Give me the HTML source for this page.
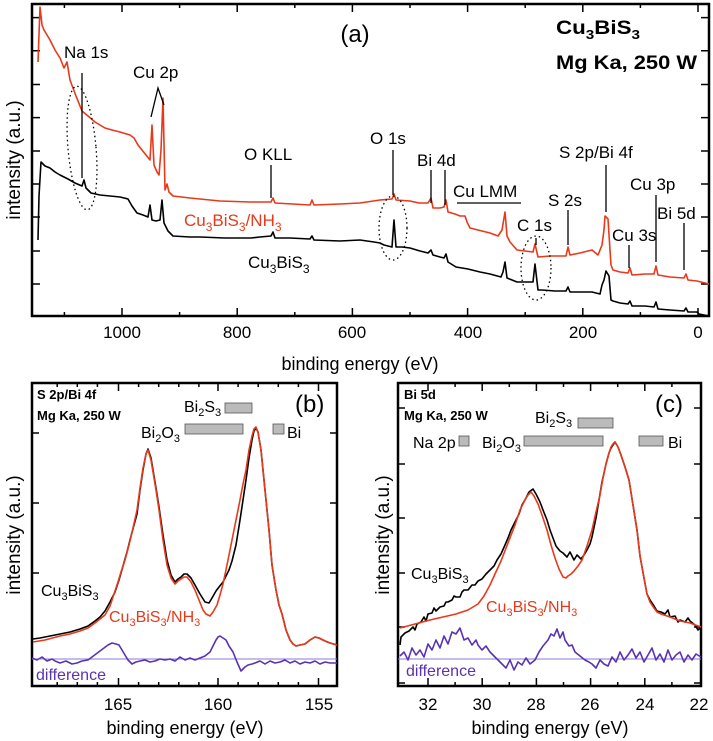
<!DOCTYPE html>
<html><head><meta charset="utf-8"><style>
html,body{margin:0;padding:0;background:#fff;}
svg{display:block;font-family:"Liberation Sans",sans-serif;}
</style></head><body>
<svg width="713" height="741" viewBox="0 0 713 741" xmlns="http://www.w3.org/2000/svg">
<g fill="none" stroke="#000" stroke-width="2.5">
<rect x="32" y="4" width="677" height="312"/>
<rect x="32" y="383" width="305" height="303"/>
<rect x="398" y="383" width="303" height="303"/>
</g>
<g stroke="#000" stroke-width="1.5" fill="none">
<path d="M32,17.6h8M32,50.7h8M32,84.5h8M32,117.6h8M32,151h8M32,184h8M32,217h8M32,251h8M32,284h8
M701,17.6h8M701,50.7h8M701,84.5h8M701,117.6h8M701,151h8M701,184h8M701,217h8M701,251h8M701,284h8
M64.4,316v-4M122,316v-8M179.6,316v-4M237.2,316v-8M294.8,316v-4M352.4,316v-8M410,316v-4M467.6,316v-8M525.2,316v-4M582.8,316v-8M640.4,316v-4M698,316v-8
M64.4,4v4M122,4v8M179.6,4v4M237.2,4v8M294.8,4v4M352.4,4v8M410,4v4M467.6,4v8M525.2,4v4M582.8,4v8M640.4,4v4M698,4v8
M32,433h7M32,503h7M32,573h7M330,433h7M330,503h7M330,573h7
M57.2,686v-4M77.3,686v-4M97.4,686v-4M118.5,686v-8M138.6,686v-4M158.7,686v-4M178.8,686v-4M198.9,686v-4M218,686v-8M238.1,686v-4M258.2,686v-4M278.3,686v-4M298.4,686v-4M318.5,686v-8
M57.2,383v4M77.3,383v4M97.4,383v4M118.5,383v8M138.6,383v4M158.7,383v4M178.8,383v4M198.9,383v4M218,383v8M238.1,383v4M258.2,383v4M278.3,383v4M298.4,383v4M318.5,383v8
M398,408h7M398,464h7M398,518h7M398,573h7M398,627h7M398,683h7M694,408h7M694,464h7M694,518h7M694,573h7M694,627h7M694,683h7
M428,686v-8M455.1,686v-4M482.2,686v-8M509.3,686v-4M536.4,686v-8M563.5,686v-4M590.6,686v-8M617.7,686v-4M644.8,686v-8M671.9,686v-4
M428,383v8M455.1,383v4M482.2,383v8M509.3,383v4M536.4,383v8M563.5,383v4M590.6,383v8M617.7,383v4M644.8,383v8M671.9,383v4"/>
</g>
<line x1="32" y1="659" x2="337" y2="659" stroke="#8a78d8" stroke-width="1"/>
<line x1="398" y1="659" x2="701" y2="659" stroke="#8a78d8" stroke-width="1"/>
<g fill="none" stroke-width="1.6" stroke-linejoin="round">
<polyline stroke="#e8391a" points="38,62 40,7 42,25 44,30 50,40 55,50 60,58 64,68 67,62 70,80 76,96 82,111 88,116 95,122 100,125 105,128 112,130 120,132 130,135 134,138 138,145 142,150 146,155 150,160 152,125 154,165 157,172 159,175 161,150 163,98 165,190 167,184 169,192 173,196 190,198 220,201 250,202 271,202 273,198 275,203 310,205 312,200 314,205 340,204 360,203 380,200 392,199 394,194 396,200 410,201 419,203 428,203 431,198 433,208 440,208 444,207 446,200 448,212 455,214 460,216 465,216 467,222 470,228 478,230 490,233 498,236 502,230 504,218 505,212 507,236 510,242 517,250 525,251 533,252 535,244 538,257 550,256 566,256 568,247 570,255 580,253 592,250 598,255 602,245 604,230 605,216 608,219 610,250 611,265 613,270 620,272 628,273 630,268 632,275 645,274 654,274 656,266 658,275 670,277 684,278 686,274 688,280 697,281 709,284"/>
<polyline stroke="#000" points="38,240 39,196 41,162 45,166 50,168 55,172 60,175 64,177 68,179 75,183 82,186 84,180 86,188 91,193 100,195 110,196 120,197 128,199 132,206 137,213 143,215 148,217 150,205 152,220 156,221 160,220 162,200 164,223 168,231 173,236 190,237 200,237 225,238 251,238 260,237 271,236 273,232 275,238 290,238 310,239 312,236 314,240 340,241 360,240 374,242 380,243 384,245 392,247 394,220 396,247 402,247 410,248 420,251 428,253 431,250 433,255 440,257 444,258 446,254 448,262 456,267 468,269 480,272 490,274 501,277 503,272 505,262 507,278 517,282 525,282 533,282 535,264 538,290 542,290 555,291 566,291 568,287 570,292 580,292 592,292 600,294 602,285 604,280 606,271 609,276 611,300 613,301 620,303 628,304 630,301 632,306 645,306 654,307 656,302 658,309 670,310 684,311 686,308 688,312 697,312 699,314 709,316"/>
<polyline stroke="#000" points="33,639 40,638 50,636 60,634 70,632 80,629 88,626 95,621 100,617 105,611 110,602 115,592 119,580 123,566 127,552 130,540 134,525 137,514 140,490 143,470 146,454 148,449 151,458 153,470 156,488 159,507 163,535 167,560 171,575 175,582 178,579 181,577 184,574 187,574 191,578 195,585 200,594 205,602 209,603 212,598 216,591 219,587 223,582 226,576 229,570 232,561 236,545 240,520 243,500 246,480 249,458 252,440 254,431 256,428 258,432 261,450 265,490 269,530 272,565 276,590 279,605 282,614 286,630 290,640 293,644 296,646 300,645 305,644 310,640 315,637 319,638 325,641 330,643 337,645"/>
<polyline stroke="#e8391a" points="33,642 45,640 60,636 70,634 80,631 88,628 95,623 100,619 105,615 110,606 114,594 118,582 121,572 125,560 129,545 133,528 137,510 140,488 143,468 146,454 148,450 151,460 153,472 156,490 159,510 163,540 167,565 171,578 175,584 178,581 181,579 184,577 187,577 191,582 195,590 199,600 203,610 206,614 210,616 213,612 217,605 220,595 223,584 227,565 232,540 236,520 240,500 243,484 246,470 249,450 252,436 254,429 256,427 258,432 261,450 265,490 269,530 272,565 276,590 279,605 282,614 286,630 290,640 293,644 296,646 300,645 305,644 310,640 315,637 319,638 325,641 330,643 337,645"/>
<polyline stroke="#5a32b4" points="32,658 37,660 42,657 47,661 52,659 55,661 60,663 66,661 72,664 77,663 82,661 88,660 92,657 96,654 100,651 104,648 108,645 112,643 116,644 119,645 122,650 125,655 128,660 132,664 136,662 140,661 145,660 150,662 155,661 160,659 165,660 170,659 175,661 180,657 185,660 190,658 195,660 200,658 205,656 210,652 213,646 216,640 218,637 220,636 223,638 226,640 229,646 233,652 237,662 241,671 245,667 248,665 252,664 255,663 260,661 265,664 270,661 275,663 280,662 285,660 290,663 295,661 300,664 305,662 310,663 315,661 320,664 325,662 330,663 337,663"/>
<polyline stroke="#000" points="400,645 401,637 405,633 409,631 413,627 415,630 417,624 421,622 424,617 426,621 428,614 432,613 434,608 436,611 440,607 444,606 446,602 448,602 452,600 454,596 456,597 460,597 462,592 464,590 468,590 472,585 475,585 478,581 482,579 486,574 490,570 494,566 497,560 501,554 505,545 508,538 511,530 515,522 519,514 522,505 526,498 529,492 533,489 536,494 540,502 543,510 547,520 550,530 553,538 556,546 560,551 563,553 567,557 570,552 574,560 577,555 581,559 584,555 587,550 590,544 592,537 596,518 599,500 602,482 606,464 609,453 611,448 613,445 615,442 618,447 621,455 625,467 629,480 633,505 637,530 640,556 644,578 647,594 650,600 654,606 657,611 661,612 665,614 668,610 670,617 675,616 678,622 680,620 685,622 688,618 690,621 695,625 698,630 701,627"/>
<polyline stroke="#e8391a" points="400,628 415,624 430,620 443,617 456,614 462,612 468,610 473,607 478,604 484,596 490,585 495,574 501,561 508,543 515,525 520,510 525,500 528,495 531,492 534,496 538,504 542,515 547,530 551,545 555,558 559,569 563,577 566,578 568,576 571,574 574,571 578,566 582,560 587,546 592,530 596,512 600,495 603,478 606,464 609,453 611,447 613,444 615,442 618,447 621,455 625,467 629,480 633,505 637,530 640,556 644,578 647,594 650,602 654,608 657,612 661,614 670,617 680,621 690,623 701,627"/>
<polyline stroke="#5a32b4" points="400,656 404,652 408,660 412,648 416,655 420,650 424,657 428,644 432,650 436,640 440,648 444,636 448,644 452,632 456,634 460,628 464,640 468,638 472,645 476,640 478,645 482,650 486,646 490,652 494,656 498,660 502,664 506,668 510,660 514,670 518,662 522,665 526,658 530,664 535,660 539,652 543,646 548,640 551,634 554,636 557,629 560,638 563,632 565,640 569,646 572,645 575,652 580,656 585,660 589,662 592,664 596,668 600,660 604,664 608,666 612,657 616,662 620,652 624,660 628,655 632,649 636,658 640,652 644,662 648,655 652,648 656,660 660,654 664,662 668,650 672,660 676,655 680,652 684,662 688,655 692,660 696,654 701,657"/>
</g>
<!-- panel a labels -->
<g font-size="17" fill="#000">
<text x="355" y="42" font-size="24" text-anchor="middle">(a)</text>
<text x="556" y="34" font-weight="bold" font-size="19" textLength="84" lengthAdjust="spacingAndGlyphs">Cu<tspan font-size="13" dy="5">3</tspan><tspan dy="-5">BiS</tspan><tspan font-size="13" dy="5">3</tspan></text>
<text x="556" y="69" font-weight="bold" font-size="19" textLength="141" lengthAdjust="spacingAndGlyphs">Mg Ka, 250 W</text>
<text x="64" y="58">Na 1s</text>
<text x="133" y="78">Cu 2p</text>
<text x="244" y="160">O KLL</text>
<text x="370" y="144">O 1s</text>
<text x="417" y="166">Bi 4d</text>
<text x="453" y="197">Cu LMM</text>
<text x="548" y="206">S 2s</text>
<text x="559" y="158">S 2p/Bi 4f</text>
<text x="630" y="190">Cu 3p</text>
<text x="657" y="219">Bi 5d</text>
<text x="612" y="241">Cu 3s</text>
<text x="517" y="231">C 1s</text>
<text x="184" y="226" fill="#e8391a">Cu<tspan font-size="12" dy="5">3</tspan><tspan dy="-5">BiS</tspan><tspan font-size="12" dy="5">3</tspan><tspan dy="-5">/NH</tspan><tspan font-size="12" dy="5">3</tspan></text>
<text x="248" y="268">Cu<tspan font-size="12" dy="5">3</tspan><tspan dy="-5">BiS</tspan><tspan font-size="12" dy="5">3</tspan></text>
<text x="360" y="370" text-anchor="middle" font-size="18">binding energy (eV)</text>
<text transform="translate(20,160) rotate(-90)" text-anchor="middle" font-size="19">intensity (a.u.)</text>
<g font-size="17" text-anchor="middle">
<text x="122" y="338">1000</text><text x="237" y="338">800</text><text x="352" y="338">600</text><text x="468" y="338">400</text><text x="583" y="338">200</text><text x="698" y="338">0</text>
</g>
</g>
<g stroke="#000" stroke-width="1.3" fill="none">
<line x1="82" y1="73" x2="82" y2="178"/>
<polyline points="151,117 158,88 164,105"/>
<line x1="271" y1="165" x2="271" y2="198"/>
<line x1="393" y1="150" x2="393" y2="195"/>
<line x1="431" y1="170" x2="431" y2="203"/>
<line x1="445" y1="170" x2="445" y2="205"/>
<line x1="457" y1="203" x2="521" y2="203"/>
<line x1="568" y1="210" x2="568" y2="245"/>
<line x1="606" y1="165" x2="606" y2="212"/>
<line x1="656" y1="195" x2="656" y2="262"/>
<line x1="684" y1="223" x2="684" y2="270"/>
<line x1="629" y1="245" x2="629" y2="268"/>
<line x1="536" y1="238" x2="536" y2="245"/>
<g stroke-dasharray="1.5,3">
<ellipse cx="82" cy="148" rx="14" ry="62" transform="rotate(-5 82 148)"/>
<ellipse cx="393" cy="228" rx="14" ry="32"/>
<ellipse cx="536" cy="268" rx="15" ry="32"/>
</g>
</g>
<!-- panel b labels -->
<g font-size="16">
<text x="37" y="399" font-weight="bold" font-size="13">S 2p/Bi 4f</text>
<text x="37" y="420" font-weight="bold" font-size="13">Mg Ka, 250 W</text>
<text x="295" y="412" font-size="24">(b)</text>
<text x="184" y="412">Bi<tspan font-size="11" dy="4">2</tspan><tspan dy="-4">S</tspan><tspan font-size="11" dy="4">3</tspan></text>
<text x="141" y="438">Bi<tspan font-size="11" dy="4">2</tspan><tspan dy="-4">O</tspan><tspan font-size="11" dy="4">3</tspan></text>
<text x="287" y="438">Bi</text>
<text x="41" y="596">Cu<tspan font-size="11" dy="4">3</tspan><tspan dy="-4">BiS</tspan><tspan font-size="11" dy="4">3</tspan></text>
<text x="109" y="622" fill="#e8391a">Cu<tspan font-size="11" dy="4">3</tspan><tspan dy="-4">BiS</tspan><tspan font-size="11" dy="4">3</tspan><tspan dy="-4">/NH</tspan><tspan font-size="11" dy="4">3</tspan></text>
<text x="36" y="680" fill="#5a32b4">difference</text>
<text x="185" y="734" text-anchor="middle" font-size="18">binding energy (eV)</text>
<text transform="translate(20,535) rotate(-90)" text-anchor="middle" font-size="19">intensity (a.u.)</text>
<g font-size="17" text-anchor="middle"><text x="118" y="710">165</text><text x="218" y="710">160</text><text x="319" y="710">155</text></g>
</g>
<g fill="#bbb" stroke="#555" stroke-width="0.8">
<rect x="225" y="403" width="27" height="10"/>
<rect x="185" y="424" width="58" height="10"/>
<rect x="273" y="424" width="11" height="10"/>
<rect x="578" y="418" width="35" height="10"/>
<rect x="459" y="436" width="10" height="10"/>
<rect x="524" y="436" width="79" height="10"/>
<rect x="639" y="436" width="24" height="10"/>
</g>
<!-- panel c labels -->
<g font-size="16">
<text x="404" y="399" font-weight="bold" font-size="13">Bi 5d</text>
<text x="404" y="420" font-weight="bold" font-size="13">Mg Ka, 250 W</text>
<text x="655" y="412" font-size="24">(c)</text>
<text x="535" y="423">Bi<tspan font-size="11" dy="4">2</tspan><tspan dy="-4">S</tspan><tspan font-size="11" dy="4">3</tspan></text>
<text x="413" y="448">Na 2p</text>
<text x="482" y="448">Bi<tspan font-size="11" dy="4">2</tspan><tspan dy="-4">O</tspan><tspan font-size="11" dy="4">3</tspan></text>
<text x="668" y="448">Bi</text>
<text x="411" y="579">Cu<tspan font-size="11" dy="4">3</tspan><tspan dy="-4">BiS</tspan><tspan font-size="11" dy="4">3</tspan></text>
<text x="486" y="612" fill="#e8391a">Cu<tspan font-size="11" dy="4">3</tspan><tspan dy="-4">BiS</tspan><tspan font-size="11" dy="4">3</tspan><tspan dy="-4">/NH</tspan><tspan font-size="11" dy="4">3</tspan></text>
<text x="406" y="676" fill="#5a32b4">difference</text>
<text x="550" y="734" text-anchor="middle" font-size="18">binding energy (eV)</text>
<text transform="translate(389,535) rotate(-90)" text-anchor="middle" font-size="19">intensity (a.u.)</text>
<g font-size="17" text-anchor="middle"><text x="428" y="710">32</text><text x="482" y="710">30</text><text x="536" y="710">28</text><text x="590" y="710">26</text><text x="645" y="710">24</text><text x="699" y="710">22</text></g>
</g>
</svg>
</body></html>
